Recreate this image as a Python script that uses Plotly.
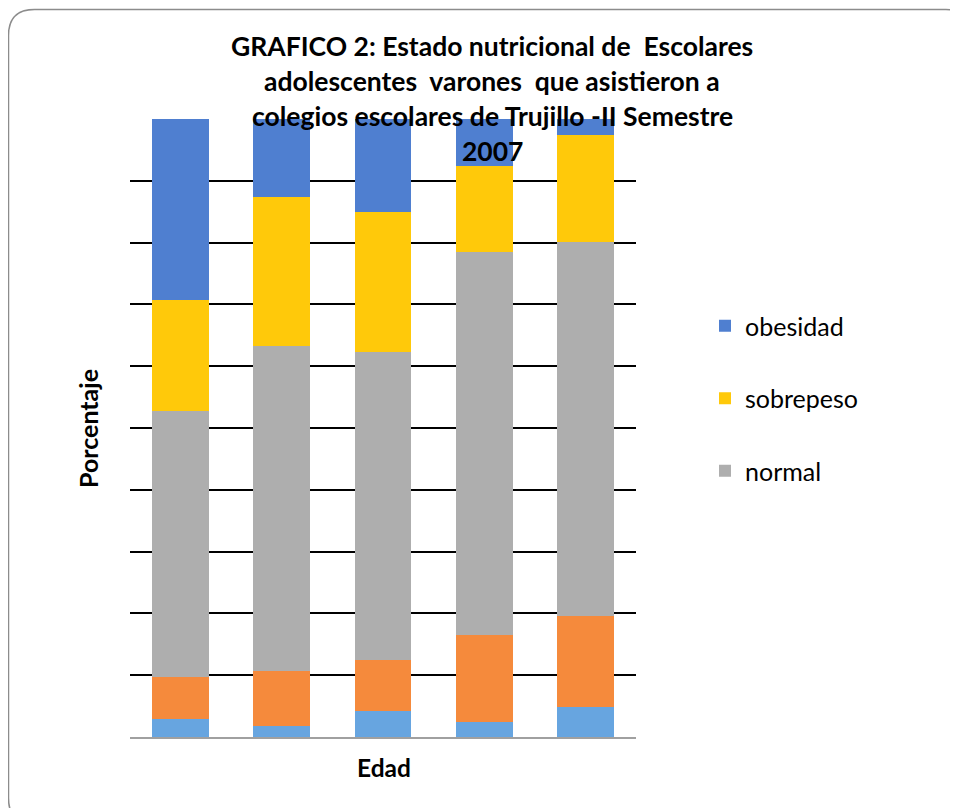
import plotly.graph_objects as go

categories = ["1", "2", "3", "4", "5"]
serie_celeste = [2.9, 1.8, 4.2, 2.5, 4.9]
serie_naranja = [6.8, 8.9, 8.3, 14.0, 14.7]
normal = [43.1, 52.6, 49.8, 62.0, 60.5]
sobrepeso = [17.9, 24.1, 22.7, 13.9, 17.3]
obesidad = [29.3, 12.6, 15.0, 7.6, 2.6]

title_lines = [
    "GRAFICO 2: Estado nutricional de  Escolares",
    "adolescentes  varones  que asistieron a",
    "colegios escolares de Trujillo -II Semestre",
    "2007",
]

OFF = 8  # page body margin
W, H = 950, 800
L, R, T, B = 130 - OFF, 636 - OFF, 119 - OFF, 737 - OFF

def px(x):
    return (x - OFF - L) / (R - L)

def py(y):
    return (B - (y - OFF)) / (B - T)

FONT = "Lato"

fig = go.Figure()
fig.add_trace(go.Bar(x=categories, y=serie_celeste, marker_color="#67A5E0", showlegend=False, name=""))
fig.add_trace(go.Bar(x=categories, y=serie_naranja, marker_color="#F58A3C", showlegend=False, name=""))
fig.add_trace(go.Bar(x=categories, y=normal, name="normal", marker_color="#AEAEAE",
                     legendgroup="c", legendrank=3))
fig.add_trace(go.Bar(x=categories, y=sobrepeso, name="sobrepeso", marker_color="#FFC90A",
                     legendgroup="b", legendrank=2))
fig.add_trace(go.Bar(x=categories, y=obesidad, name="obesidad", marker_color="#4F7FD0",
                     legendgroup="a", legendrank=1))

fig.update_traces(marker_line_width=0)

annotations = []
for i, line in enumerate(title_lines):
    annotations.append(dict(
        text="<b>" + line + "</b>", x=px(492), y=py(46 + 35 * i), xref="paper", yref="paper",
        showarrow=False, xanchor="center", yanchor="middle",
        font=dict(family=FONT, size=26.5, color="black")))
annotations.append(dict(
    text="<b>Porcentaje</b>", x=px(88), y=py(429), xref="paper", yref="paper", textangle=-90,
    showarrow=False, xanchor="center", yanchor="middle", font=dict(family=FONT, size=25, color="black")))
annotations.append(dict(
    text="<b>Edad</b>", x=px(384), y=py(768), xref="paper", yref="paper",
    showarrow=False, xanchor="center", yanchor="middle", font=dict(family=FONT, size=24.5, color="black")))

# rounded frame
x0, y0, x1, y1, rr = 8.5, 9.5, 972, 824, 26
path = (
    f"M {px(x0)},{py(y0 + rr)} Q {px(x0)},{py(y0)} {px(x0 + rr)},{py(y0)} "
    f"L {px(x1 - rr)},{py(y0)} Q {px(x1)},{py(y0)} {px(x1)},{py(y0 + rr)} "
    f"L {px(x1)},{py(y1 - rr)} Q {px(x1)},{py(y1)} {px(x1 - rr)},{py(y1)} "
    f"L {px(x0 + rr)},{py(y1)} Q {px(x0)},{py(y1)} {px(x0)},{py(y1 - rr)} Z"
)

fig.update_layout(
    width=W, height=H,
    margin=dict(l=L, r=W - R, t=T, b=H - B),
    barmode="stack", bargap=0.44,
    plot_bgcolor="white", paper_bgcolor="white",
    font=dict(family=FONT, color="black"),
    showlegend=True,
    legend=dict(x=px(705), y=py(303), xanchor="left", yanchor="top",
                traceorder="grouped", tracegroupgap=37,
                font=dict(family=FONT, size=25, color="black"),
                bgcolor="rgba(0,0,0,0)"),
    annotations=annotations,
    shapes=[dict(type="path", path=path, xref="paper", yref="paper",
                 line=dict(color="#8C8C8C", width=1.5), layer="below")],
    xaxis=dict(showticklabels=False, showgrid=False, showline=True, linecolor="#A0A0A0",
               linewidth=2, ticks="", range=[-0.5, 4.5]),
    yaxis=dict(range=[0, 100], dtick=10, showgrid=True, gridcolor="black", gridwidth=2,
               zeroline=False, showticklabels=False, ticks="", showline=False),
)

fig.write_html("out.html")
